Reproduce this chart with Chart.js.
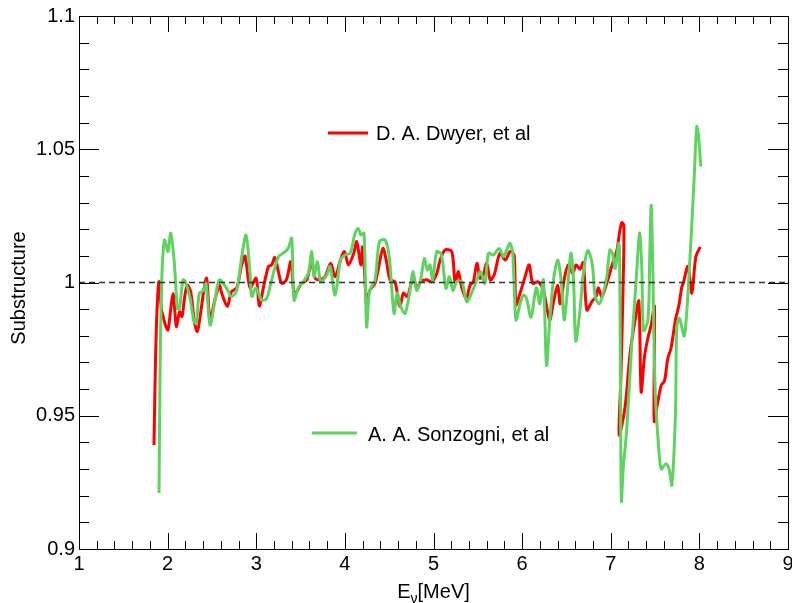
<!DOCTYPE html>
<html>
<head>
<meta charset="utf-8">
<script src="https://cdn.jsdelivr.net/npm/chart.js@4.4.1/dist/chart.umd.min.js"></script>
<style>
  body { margin: 0; background: #fff; }
  canvas { display: block; }
</style>
</head>
<body>
<canvas id="substructureChart" width="792" height="603"></canvas>
<script>
// tick values / labels
const xTicks = [1, 2, 3, 4, 5, 6, 7, 8, 9];
const yTicks = [0.9, 0.95, 1, 1.05, 1.1];
const yTickLabels = ['0.9', '0.95', '1', '1.05', '1.1'];

// D. A. Dwyer, et al (red)
const dwyerE = [1.846, 1.858, 1.872, 1.888, 1.903, 1.93, 1.95, 1.975, 2.004, 2.035, 2.061, 2.08, 2.098, 2.136, 2.162, 2.19, 2.222, 2.26, 2.305, 2.335,
  2.37, 2.41, 2.44, 2.479, 2.53, 2.584, 2.61, 2.674, 2.72, 2.78, 2.836, 2.874, 2.93, 2.998, 3.035, 3.08, 3.137, 3.174, 3.21, 3.25,
  3.287, 3.34, 3.39, 3.426, 3.457, 3.513, 3.57, 3.626, 3.664, 3.72, 3.777, 3.84, 3.89, 3.95, 3.995, 4.04, 4.10, 4.134, 4.18, 4.20,
  4.222, 4.245, 4.28, 4.34, 4.378, 4.43, 4.47, 4.51, 4.565, 4.62, 4.66, 4.705, 4.735, 4.77, 4.81, 4.855, 4.92, 4.98, 5.037, 5.075,
  5.13, 5.206, 5.245, 5.28, 5.32, 5.37, 5.413, 5.45, 5.49, 5.526, 5.56, 5.60, 5.64, 5.684, 5.75, 5.81, 5.864, 5.91, 5.93, 5.977,
  6.034, 6.08, 6.12, 6.18, 6.24, 6.31, 6.35, 6.40, 6.43, 6.474, 6.52, 6.57, 6.61, 6.654, 6.69, 6.73, 6.79, 6.835, 6.86, 6.90,
  6.955, 7.01, 7.07, 7.10, 7.125, 7.148, 7.14, 7.115, 7.095, 7.162, 7.218, 7.275, 7.317, 7.343, 7.38, 7.418, 7.456, 7.493, 7.49, 7.53,
  7.57, 7.606, 7.644, 7.68, 7.73, 7.77, 7.80, 7.82, 7.87, 7.915, 7.96, 8.01];
const dwyerS = [0.939, 0.962, 0.982, 0.995, 1.0003, 0.990, 0.9872, 0.984, 0.9822, 0.990, 0.9959, 0.990, 0.9834, 0.989, 0.9872, 0.994, 0.999, 0.9966, 0.9847, 0.9816,
  0.988, 0.9975, 1.0016, 0.986, 0.993, 0.999, 0.996, 0.991, 0.9966, 0.998, 1.0066, 1.0099, 0.998, 1.0016, 0.9912, 0.998, 1.006, 1.0066, 1.0094, 1.004,
  0.9997, 1.001, 1.0078, 0.996, 0.9966, 0.9997, 1.001, 1.0078, 1.0016, 1.001, 1.0022, 1.0072, 1.0022, 1.0084, 1.0116, 1.0066, 1.011, 1.0153, 1.0066, 1.0134,
  1.004, 0.992, 0.997, 0.9997, 1.0053, 1.0128, 1.0078, 1.001, 1.0003, 0.991, 0.996, 0.9947, 0.998, 1.0022, 0.998, 1.0003, 1.001, 1.0003, 1.0034, 1.0084,
  1.0122, 1.0116, 0.9997, 1.0041, 0.998, 0.994, 0.999, 1.0003, 1.0072, 1.0016, 1.0028, 1.0072, 1.001, 1.0028, 1.011, 1.0084, 1.0116, 1.0103, 0.9916, 0.996,
  1.0022, 1.0066, 0.9997, 1.0003, 0.997, 0.986, 0.992, 0.999, 0.992, 1.001, 1.0066, 1.0034, 1.0066, 1.005, 1.0075, 0.9897, 0.993, 0.9947, 0.998, 0.9947,
  0.9997, 1.006, 1.0122, 1.019, 1.0225, 1.0215, 1.000, 0.965, 0.9428, 0.9534, 0.9734, 0.986, 0.993, 0.959, 0.972, 0.979, 0.984, 0.991, 0.948, 0.955,
  0.9615, 0.963, 0.9716, 0.9753, 0.986, 0.9916, 0.998, 1.000, 1.006, 0.996, 1.0097, 1.0134];

// A. A. Sonzogni, et al (green)
const sonzogniE = [1.903, 1.91, 1.92, 1.935, 1.95, 1.967, 2.004, 2.035, 2.073, 2.11, 2.132, 2.174, 2.20, 2.25, 2.298, 2.324, 2.358, 2.403, 2.433, 2.479,
  2.535, 2.584, 2.666, 2.72, 2.78, 2.836, 2.885, 2.93, 2.95, 2.998, 3.06, 3.117, 3.174, 3.25, 3.305, 3.36, 3.40, 3.426, 3.475, 3.53,
  3.587, 3.626, 3.652, 3.69, 3.728, 3.796, 3.833, 3.89, 3.95, 4.00, 4.06, 4.115, 4.15, 4.18, 4.216, 4.245, 4.28, 4.34, 4.39, 4.454,
  4.50, 4.555, 4.59, 4.63, 4.68, 4.735, 4.77, 4.81, 4.855, 4.897, 4.93, 4.96, 4.99, 5.037, 5.09, 5.14, 5.18, 5.22, 5.26, 5.32,
  5.375, 5.43, 5.49, 5.53, 5.58, 5.62, 5.676, 5.74, 5.79, 5.826, 5.864, 5.894, 5.93, 5.977, 6.015, 6.05, 6.10, 6.16, 6.20, 6.24,
  6.275, 6.31, 6.35, 6.40, 6.44, 6.474, 6.505, 6.55, 6.58, 6.605, 6.654, 6.69, 6.74, 6.79, 6.825, 6.87, 6.915, 6.955, 6.99, 7.02,
  7.05, 7.09, 7.10, 7.11, 7.12, 7.14, 7.18, 7.235, 7.287, 7.325, 7.35, 7.37, 7.42, 7.44, 7.456, 7.47, 7.50, 7.54, 7.57, 7.625,
  7.66, 7.69, 7.73, 7.745, 7.775, 7.83, 7.88, 7.94, 7.97, 7.99, 8.016];
const sonzogniS = [0.921, 0.950, 0.980, 1.002, 1.012, 1.016, 1.0116, 1.0185, 1.0084, 0.9903, 0.990, 1.001, 1.0003, 0.9947, 0.9853, 0.9847, 0.996, 0.9969, 0.9997, 0.984,
  0.9934, 1.001, 0.9978, 0.9947, 0.997, 1.0097, 1.0178, 1.0034, 0.9947, 0.998, 0.9934, 0.994, 1.001, 1.0097, 1.011, 1.0128, 1.0166, 0.9934, 0.998, 1.0003,
  1.0034, 1.0116, 1.0022, 1.0078, 1.0003, 1.0028, 1.006, 0.9953, 1.0084, 1.0103, 1.011, 1.0185, 1.0203, 1.0178, 1.0185, 0.9834, 0.997, 1.001, 1.0153, 1.016,
  1.0097, 0.9884, 0.996, 0.991, 0.9884, 0.997, 1.0041, 0.997, 1.001, 1.009, 1.0047, 1.0066, 1.001, 1.0116, 1.0103, 0.9978, 1.0022, 0.997, 1.0003, 1.0003,
  0.9928, 0.996, 1.001, 1.0041, 0.9997, 1.011, 1.0103, 1.0128, 1.0097, 1.0122, 1.0147, 1.011, 0.986, 0.992, 0.9953, 0.994, 0.987, 0.998, 0.992, 1.001,
  0.969, 0.985, 1.000, 1.0084, 1.001, 0.986, 0.9947, 1.011, 1.001, 0.978, 0.990, 1.0034, 1.012, 1.0072, 0.9947, 0.992, 0.996, 1.0022, 1.0122, 1.011,
  1.0053, 1.0147, 1.010, 0.960, 0.918, 0.930, 0.9447, 0.976, 1.001, 1.0185, 1.006, 0.982, 0.986, 1.010, 1.029, 1.0134, 0.961, 0.9384, 0.930, 0.932,
  0.9297, 0.924, 0.951, 0.9834, 0.9866, 0.980, 1.001, 1.0385, 1.0585, 1.055, 1.0435];

// reference line at 1
const refE = [1, 9];
const refS = [1, 1];

const pairs = (xs, ys) => xs.map((x, i) => ({ x: x, y: ys[i] }));

Chart.defaults.font.family = '"Liberation Sans", Arial, Helvetica, sans-serif';
Chart.defaults.font.size = 20;
Chart.defaults.color = '#000';

const rootFrame = {
    id: 'rootFrame',
    afterDatasetsDraw(chart) {
        const ctx = chart.ctx;
        const a = chart.chartArea;
        const xs = chart.scales.x;
        const ys = chart.scales.y;
        ctx.save();
        ctx.strokeStyle = '#000';
        ctx.lineWidth = 1;
        ctx.beginPath();
        // x ticks, major every 1, minor every 0.2
        for (let i = 0; i <= 40; i++) {
            const v = 1 + i * 0.2;
            const px = Math.round(xs.getPixelForValue(v)) + 0.5;
            const len = (i % 5 === 0) ? 16 : 8;
            ctx.moveTo(px, a.bottom); ctx.lineTo(px, a.bottom - len);
            ctx.moveTo(px, a.top); ctx.lineTo(px, a.top + len);
        }
        // y ticks, major every 0.05, minor every 0.01
        for (let i = 0; i <= 20; i++) {
            const v = 0.9 + i * 0.01;
            const py = Math.round(ys.getPixelForValue(v)) + 0.5;
            const len = (i % 5 === 0) ? 20 : 10;
            ctx.moveTo(a.left, py); ctx.lineTo(a.left + len, py);
            ctx.moveTo(a.right, py); ctx.lineTo(a.right - len, py);
        }
        ctx.stroke();
        ctx.strokeRect(Math.round(a.left) + 0.5, Math.round(a.top) + 0.5, Math.round(a.right - a.left), Math.round(a.bottom - a.top));
        ctx.restore();
    },
    afterDraw(chart) {
        const ctx = chart.ctx;
        ctx.save();
        ctx.fillStyle = '#000';
        ctx.font = '20px "Liberation Sans", Arial, sans-serif';
        ctx.textBaseline = 'alphabetic';

        // legend entries
        ctx.lineWidth = 3;
        ctx.strokeStyle = '#ff0000';
        ctx.beginPath(); ctx.moveTo(328, 133); ctx.lineTo(368, 133); ctx.stroke();
        ctx.fillText('D. A. Dwyer, et al', 376, 140);
        ctx.strokeStyle = '#5fd35f';
        ctx.beginPath(); ctx.moveTo(312, 433); ctx.lineTo(357, 433); ctx.stroke();
        ctx.fillText('A. A. Sonzogni, et al', 368, 441);

        // x title E_nu[MeV]
        const a = chart.chartArea;
        const wE = ctx.measureText('E').width;
        ctx.font = '14px "Liberation Sans", Arial, sans-serif';
        const wNu = ctx.measureText('\u03bd').width;
        ctx.font = '20px "Liberation Sans", Arial, sans-serif';
        const wRest = ctx.measureText('[MeV]').width;
        let x0 = (a.left + a.right) / 2 - (wE + wNu + wRest) / 2;
        ctx.fillText('E', x0, 598);
        ctx.font = '14px "Liberation Sans", Arial, sans-serif';
        ctx.fillText('\u03bd', x0 + wE, 603);
        ctx.font = '20px "Liberation Sans", Arial, sans-serif';
        ctx.fillText('[MeV]', x0 + wE + wNu, 598);

        // y title
        ctx.translate(25, 288);
        ctx.rotate(-Math.PI / 2);
        ctx.textAlign = 'center';
        ctx.fillText('Substructure', 0, 0);
        ctx.restore();
    }
};

new Chart(document.getElementById('substructureChart').getContext('2d'), {
    type: 'scatter',
    data: {
        datasets: [{
            label: 'reference',
            data: pairs(refE, refS),
            showLine: true,
            borderColor: '#333',
            borderWidth: 1.5,
            borderDash: [6, 4],
            pointRadius: 0,
            order: 0
        }, {
            label: 'A. A. Sonzogni, et al',
            data: pairs(sonzogniE, sonzogniS),
            showLine: true,
            borderColor: '#5fd35f',
            borderWidth: 3,
            pointRadius: 0,
            tension: 0.3,
            order: 1
        }, {
            label: 'D. A. Dwyer, et al',
            data: pairs(dwyerE, dwyerS),
            showLine: true,
            borderColor: '#ff0000',
            borderWidth: 3,
            pointRadius: 0,
            tension: 0.3,
            order: 2
        }]
    },
    options: {
        responsive: false,
        animation: false,
        layout: { padding: { top: 16, right: 4, left: 0, bottom: 0 } },
        plugins: {
            legend: { display: false },
            tooltip: { enabled: false }
        },
        scales: {
            x: {
                type: 'linear',
                min: 1,
                max: 9,
                grid: { display: false, drawTicks: false },
                border: { display: false },
                ticks: { padding: 3, maxRotation: 0, autoSkip: false },
                afterBuildTicks: s => { s.ticks = xTicks.map(v => ({ value: v })); },
                afterFit: s => { s.height = 54; s.paddingLeft = 0; s.paddingRight = 0; }
            },
            y: {
                type: 'linear',
                min: 0.9,
                max: 1.1,
                grid: { display: false, drawTicks: false },
                border: { display: false },
                ticks: {
                    padding: 4,
                    callback: v => yTickLabels[yTicks.findIndex(t => Math.abs(t - v) < 1e-6)]
                },
                afterBuildTicks: s => { s.ticks = yTicks.map(v => ({ value: v })); },
                afterFit: s => { s.width = 79; s.paddingTop = 0; s.paddingBottom = 0; }
            }
        }
    },
    plugins: [rootFrame]
});
</script>
</body>
</html>
